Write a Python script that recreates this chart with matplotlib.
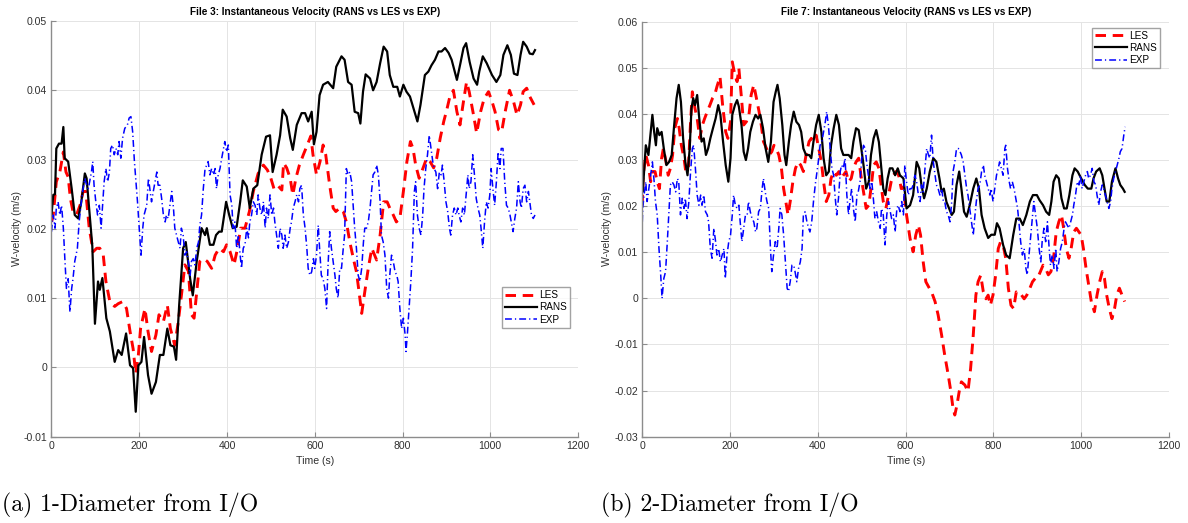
import numpy as np
import matplotlib
matplotlib.use("Agg")
import matplotlib.pyplot as plt

plt.rcParams["font.family"] = ["Liberation Sans", "DejaVu Sans"]
plt.rcParams["axes.unicode_minus"] = False

# ---------------- File 3 (1-Diameter from I/O), velocities in mm/s ----------------
t_les_3 = [0, 4, 11, 19, 27, 33, 38, 43, 49, 57, 65, 72, 78, 86, 95, 103, 110, 118, 124, 133,
           144, 152, 162, 171, 179, 186, 192, 198, 203, 213, 220, 228, 238, 245, 255, 264, 271,
           281, 289, 297, 304, 312, 319, 325, 331, 338, 346, 355, 365, 373, 382, 392, 399, 407,
           416, 424, 431, 441, 451, 460, 471, 483, 492, 500, 507, 515, 525, 529, 536, 544, 550,
           557, 565, 574, 583, 591, 596, 604, 612, 619, 625, 634, 642, 648, 657, 665, 672, 680,
           688, 695, 701, 707, 714, 722, 730, 741, 749, 757, 765, 771, 779, 786, 794, 802, 810,
           818, 824, 830, 838, 847, 855, 863, 871, 878, 886, 894, 901, 908, 916, 924, 931, 939,
           946, 952, 962, 969, 978, 986, 996, 1004, 1011, 1019, 1026, 1034, 1044, 1053, 1061,
           1069, 1075, 1083, 1090, 1100]
w_les_3 = [21.0, 22.0, 26.8, 28.2, 31.1, 28.2, 27.5, 24.4, 22.5, 22.0, 23.4, 25.4, 25.4, 20.1,
           16.7, 17.2, 17.2, 16.2, 12.4, 9.5, 8.8, 9.2, 9.5, 8.5, 5.2, 2.7, -0.9, 1.8, 5.6, 8.5,
           5.2, 2.3, 4.7, 7.6, 6.6, 9.0, 5.6, 3.2, 6.6, 10.9, 14.8, 13.9, 7.6, 7.1, 10.9, 15.3,
           15.7, 15.3, 14.3, 16.2, 17.2, 16.7, 17.7, 16.7, 14.8, 17.2, 20.1, 20.1, 22.5, 25.4,
           28.0, 29.2, 28.5, 27.3, 25.8, 26.3, 25.6, 29.5, 28.8, 27.3, 24.9, 27.3, 29.2, 30.7,
           32.1, 33.4, 30.7, 27.8, 29.7, 32.1, 30.7, 26.3, 23.0, 22.5, 23.0, 22.5, 21.0, 18.1,
           15.7, 13.8, 10.9, 7.8, 10.9, 14.3, 17.2, 15.5, 19.1, 23.9, 23.9, 23.0, 22.0, 21.0,
           21.5, 25.4, 29.7, 32.6, 31.6, 29.2, 27.3, 28.8, 30.2, 29.7, 28.8, 30.2, 33.1, 35.5,
           37.2, 39.1, 40.0, 36.9, 35.0, 38.4, 41.2, 39.8, 36.4, 33.8, 36.9, 38.8, 39.8, 38.4,
           36.9, 34.3, 34.0, 36.9, 40.0, 38.4, 36.4, 37.9, 39.8, 40.3, 39.1, 37.9]

t_rans_3 = [0, 4, 8, 11, 17, 23, 27, 30, 38, 46, 53, 61, 68, 76, 80, 87, 93, 96, 99, 106, 110,
            116, 125, 133, 144, 152, 160, 170, 179, 186, 192, 198, 205, 211, 220, 228, 238, 247,
            255, 264, 271, 279, 284, 291, 300, 306, 316, 322, 331, 342, 350, 354, 361, 369, 375,
            382, 388, 398, 405, 413, 422, 430, 436, 445, 452, 460, 469, 479, 489, 498, 504, 513,
            521, 527, 536, 544, 550, 559, 570, 578, 585, 593, 598, 604, 611, 619, 630, 642, 649,
            661, 668, 676, 684, 691, 699, 704, 710, 716, 726, 733, 741, 749, 757, 765, 771, 779,
            788, 794, 802, 809, 817, 826, 834, 841, 851, 859, 866, 874, 882, 889, 897, 905, 912,
            924, 932, 939, 945, 953, 962, 970, 975, 983, 992, 1004, 1014, 1023, 1030, 1039, 1047,
            1054, 1062, 1069, 1075, 1083, 1090, 1097, 1102]
w_rans_3 = [22.0, 24.9, 25.0, 31.6, 32.3, 32.3, 34.7, 30.2, 29.7, 25.8, 22.0, 21.5, 23.9, 28.0,
            27.3, 22.0, 17.5, 12.0, 6.3, 12.4, 11.2, 12.9, 7.1, 5.2, 0.8, 2.5, 1.8, 4.9, 0.3,
            -0.1, -6.4, 0.3, 0.8, 4.4, -1.1, -3.8, -2.1, 1.8, 1.8, 5.6, 3.2, 3.0, 1.1, 9.0, 17.2,
            18.1, 12.8, 10.4, 15.3, 20.1, 19.1, 20.1, 17.7, 17.7, 19.1, 19.6, 19.6, 23.9, 22.0,
            20.1, 20.3, 23.9, 27.0, 26.1, 23.0, 25.8, 26.3, 30.7, 33.3, 33.5, 28.2, 30.7, 33.5,
            37.2, 36.2, 33.1, 31.4, 35.0, 36.7, 36.7, 35.5, 36.9, 32.2, 34.0, 39.3, 40.8, 41.2,
            40.3, 43.4, 44.9, 44.4, 41.2, 40.8, 36.9, 36.7, 35.2, 39.8, 42.3, 41.7, 40.0, 41.2,
            43.9, 46.3, 45.6, 42.2, 40.5, 40.5, 39.1, 40.8, 39.8, 39.1, 37.2, 35.5, 37.9, 42.2,
            42.7, 43.6, 44.4, 45.6, 45.6, 46.1, 45.4, 44.4, 41.5, 43.9, 46.1, 46.8, 44.1, 41.7,
            40.8, 42.7, 44.9, 43.9, 42.2, 41.2, 42.2, 45.1, 46.5, 45.1, 42.4, 42.2, 45.1, 47.0,
            46.3, 45.3, 45.2, 45.8]

t_exp_3 = [0, 2, 4, 8, 11, 15, 19, 23, 27, 30, 34, 38, 42, 46, 49, 53, 59, 63, 68, 72, 76, 80,
           84, 87, 91, 94, 97, 101, 105, 109, 113, 116, 120, 124, 128, 132, 135, 139, 143, 147,
           151, 154, 158, 162, 167, 173, 177, 181, 185, 189, 192, 196, 200, 204, 208, 211, 217,
           221, 224, 228, 232, 236, 240, 243, 247, 251, 255, 259, 262, 266, 270, 274, 278, 281,
           285, 289, 293, 296, 300, 304, 308, 312, 316, 319, 323, 327, 331, 335, 338, 342, 346,
           350, 354, 357, 361, 365, 369, 373, 376, 380, 384, 388, 392, 395, 399, 403, 407, 411,
           414, 418, 422, 426, 430, 433, 437, 441, 445, 449, 452, 456, 460, 464, 468, 471, 475,
           479, 483, 487, 490, 494, 498, 502, 506, 509, 513, 517, 521, 525, 528, 532, 536, 540,
           544, 547, 551, 555, 559, 563, 566, 570, 574, 578, 582, 585, 589, 593, 597, 600, 604,
           608, 611, 615, 619, 623, 627, 630, 634, 638, 642, 646, 649, 653, 657, 661, 665, 668,
           672, 676, 680, 684, 688, 691, 695, 699, 703, 707, 711, 714, 718, 722, 726, 730, 733,
           737, 741, 745, 749, 752, 756, 760, 764, 768, 771, 775, 779, 783, 787, 790, 794, 798,
           802, 806, 808, 811, 815, 819, 823, 827, 830, 834, 838, 842, 846, 849, 853, 857, 861,
           865, 869, 872, 876, 880, 884, 888, 891, 895, 899, 903, 907, 910, 914, 918, 922, 926,
           929, 933, 937, 941, 945, 949, 952, 956, 960, 964, 968, 972, 976, 979, 983, 987, 991,
           995, 999, 1002, 1006, 1010, 1014, 1018, 1022, 1025, 1029, 1033, 1037, 1041, 1045,
           1048, 1052, 1056, 1060, 1064, 1068, 1071, 1075, 1079, 1083, 1087, 1090, 1094, 1098,
           1102]
w_exp_3 = [19.6, 21.0, 22.0, 20.1, 23.0, 23.9, 22.0, 23.4, 20.1, 16.2, 11.4, 12.8, 8.0, 11.4,
           12.8, 15.3, 17.2, 21.0, 23.9, 25.8, 27.3, 26.3, 25.8, 26.8, 28.2, 29.7, 26.3, 23.9,
           22.0, 23.4, 20.1, 23.0, 26.8, 28.7, 26.8, 28.2, 31.6, 32.1, 30.7, 31.6, 30.7, 32.6,
           30.2, 33.1, 34.5, 35.0, 36.0, 36.2, 34.0, 29.7, 27.3, 23.9, 20.1, 16.2, 20.1, 22.0,
           23.4, 27.3, 25.8, 23.9, 25.4, 26.8, 28.2, 26.3, 26.3, 24.4, 22.0, 21.0, 22.0, 21.5,
           23.4, 25.4, 23.0, 20.1, 19.1, 18.1, 17.2, 20.1, 19.1, 16.2, 16.7, 15.3, 13.3, 15.3,
           15.7, 14.8, 17.2, 18.1, 20.5, 22.0, 25.8, 28.7, 29.2, 29.7, 27.8, 28.7, 27.8, 28.7,
           25.8, 27.8, 28.7, 30.2, 31.6, 32.6, 31.1, 32.1, 24.9, 23.4, 20.1, 21.0, 17.2, 19.1,
           16.2, 14.3, 17.2, 17.7, 20.1, 18.7, 21.0, 22.0, 23.9, 23.4, 22.0, 24.9, 23.0, 22.0,
           23.9, 20.1, 23.0, 21.5, 24.9, 22.0, 23.0, 21.0, 19.1, 17.2, 20.1, 19.1, 17.2, 19.1,
           17.2, 18.1, 20.1, 21.0, 23.0, 23.9, 24.9, 23.9, 25.8, 26.3, 22.0, 20.1, 17.2, 14.3,
           13.3, 13.8, 15.7, 14.3, 16.2, 20.5, 17.2, 13.3, 12.8, 11.4, 8.5, 14.3, 19.6, 17.2,
           15.3, 13.3, 11.4, 10.0, 14.3, 14.3, 17.2, 19.1, 28.7, 27.8, 28.2, 26.8, 23.0, 20.1,
           17.2, 13.3, 12.4, 14.3, 18.1, 20.1, 20.1, 21.0, 23.0, 25.8, 27.8, 28.2, 29.2, 27.8,
           23.9, 19.1, 18.1, 16.2, 11.4, 10.0, 13.3, 16.2, 15.3, 13.8, 13.3, 12.4, 8.5, 5.6,
           7.1, 4.7, 2.3, 4.7, 8.5, 12.4, 17.2, 25.4, 26.8, 22.0, 20.1, 19.1, 22.0, 25.8, 28.7,
           30.7, 33.5, 31.6, 29.7, 28.7, 28.2, 25.8, 28.2, 27.8, 29.2, 26.8, 23.9, 22.5, 20.1,
           19.1, 22.0, 23.0, 22.0, 23.0, 22.0, 21.0, 23.0, 22.0, 24.9, 27.8, 25.8, 26.8, 30.7,
           27.8, 24.4, 23.0, 22.0, 20.1, 17.2, 21.0, 23.9, 23.0, 24.9, 28.7, 25.8, 23.4, 26.8,
           31.1, 28.7, 31.6, 31.6, 26.8, 23.4, 23.0, 22.0, 21.0, 19.6, 21.5, 23.0, 26.8, 23.9,
           23.0, 25.8, 26.3, 23.9, 25.4, 23.9, 22.0, 21.5, 22.0]

# ---------------- File 7 (2-Diameter from I/O), velocities in mm/s ----------------
t_les_7 = [0, 2, 8, 14, 19, 23, 29, 34, 39, 44, 48, 54, 59, 64, 69, 74, 80, 84, 89, 95, 99, 105,
           110, 114, 120, 125, 131, 137, 142, 148, 154, 160, 165, 170, 177, 183, 190, 195, 201,
           205, 211, 216, 220, 226, 231, 237, 243, 248, 254, 260, 266, 271, 276, 283, 289, 295,
           300, 305, 311, 317, 322, 327, 332, 337, 343, 349, 355, 361, 367, 373, 380, 385, 390,
           396, 402, 408, 413, 419, 425, 430, 436, 442, 448, 453, 458, 464, 470, 476, 481, 487,
           493, 498, 504, 510, 516, 521, 527, 533, 539, 544, 549, 555, 561, 567, 572, 578, 584,
           590, 595, 602, 610, 617, 623, 629, 634, 640, 646, 654, 659, 667, 674, 682, 689, 697,
           703, 708, 712, 717, 722, 727, 735, 742, 748, 754, 760, 765, 771, 777, 783, 788, 793,
           799, 805, 811, 816, 822, 828, 834, 840, 846, 852, 858, 864, 870, 876, 883, 889, 895,
           900, 907, 913, 919, 925, 931, 937, 943, 949, 955, 960, 966, 972, 977, 983, 989, 995,
           1000, 1005, 1011, 1017, 1023, 1030, 1036, 1042, 1048, 1053, 1058, 1064, 1070, 1076,
           1081, 1087, 1093, 1099]
w_les_7 = [20.2, 26.7, 31.1, 28.9, 25.3, 27.5, 27.5, 25.3, 23.8, 30.4, 32.5, 29.6, 26.7, 28.2,
           31.1, 36.9, 39.0, 36.9, 33.2, 30.4, 27.5, 28.2, 38.3, 44.8, 41.2, 39.0, 34.7, 37.6,
           39.0, 40.5, 41.9, 43.4, 44.1, 45.9, 48.1, 41.9, 36.1, 34.7, 38.3, 51.3, 48.4, 47.0,
           49.9, 43.4, 37.6, 38.3, 39.8, 44.1, 46.3, 43.4, 40.5, 37.6, 34.0, 32.5, 31.1, 31.8,
           33.2, 32.5, 31.1, 28.2, 23.8, 21.0, 18.1, 21.0, 25.3, 28.2, 29.6, 28.9, 27.5, 31.1,
           34.0, 34.7, 34.0, 35.4, 32.5, 29.6, 25.3, 21.0, 22.4, 26.0, 27.5, 26.7, 27.5, 26.0,
           26.7, 27.5, 25.3, 26.0, 28.2, 29.6, 30.4, 26.7, 23.1, 19.5, 20.2, 23.8, 28.9, 29.6,
           28.2, 24.6, 21.0, 19.5, 22.4, 25.3, 26.7, 27.5, 26.7, 23.8, 24.2, 18.1, 13.0, 10.1,
           13.7, 15.9, 13.7, 7.9, 3.6, 2.2, 1.4, -0.7, -3.6, -8.0, -12.3, -16.6, -20.2, -23.9,
           -25.3, -23.1, -20.2, -18.1, -18.8, -20.2, -15.2, -8.0, 0.7, 3.6, 5.0, 1.4, -0.1, 0.7,
           -1.5, 0.7, 5.0, 10.8, 12.2, 11.6, 8.7, 2.2, -1.5, -2.2, 1.4, 0.7, 0.7, -0.1, 0.7, 2.2,
           3.6, 4.3, 4.3, 5.8, 7.2, 6.5, 5.1, 5.8, 8.7, 14.4, 16.6, 18.1, 15.2, 10.8, 8.7, 10.8,
           14.4, 15.2, 14.4, 13.7, 10.8, 6.5, 2.9, -0.7, -2.9, 0.7, 3.6, 5.8, 4.3, 0.7, -2.2,
           -4.4, -2.2, 0.7, 2.2, 0.7, -0.7]

t_rans_7 = [0, 1, 4, 8, 14, 17, 23, 27, 31, 34, 39, 44, 49, 55, 61, 67, 72, 78, 83, 88, 93, 98,
            103, 108, 112, 116, 120, 125, 129, 135, 140, 145, 150, 155, 161, 167, 173, 178, 184,
            190, 196, 201, 205, 211, 216, 220, 226, 231, 236, 241, 246, 252, 258, 264, 269, 275,
            281, 287, 293, 299, 304, 308, 313, 319, 324, 328, 334, 339, 345, 351, 357, 362, 367,
            373, 380, 385, 390, 396, 402, 408, 413, 419, 425, 430, 436, 442, 448, 453, 458, 464,
            470, 476, 481, 487, 493, 498, 504, 510, 516, 521, 527, 533, 539, 544, 549, 554, 559,
            564, 570, 576, 582, 587, 595, 602, 610, 617, 625, 631, 636, 642, 648, 655, 663, 670,
            677, 682, 687, 693, 699, 705, 710, 716, 722, 727, 733, 739, 746, 754, 761, 767, 773,
            780, 788, 795, 803, 808, 814, 822, 829, 837, 845, 852, 860, 867, 875, 883, 890, 899,
            905, 913, 920, 927, 932, 937, 943, 949, 955, 961, 967, 973, 980, 985, 992, 1000, 1008,
            1015, 1023, 1028, 1034, 1042, 1048, 1053, 1058, 1064, 1070, 1078, 1084, 1089, 1095,
            1099]
w_rans_7 = [25.3, 23.1, 27.5, 33.2, 31.1, 34.0, 39.8, 36.1, 33.2, 36.9, 35.4, 36.1, 32.5, 28.9,
            29.6, 31.1, 36.9, 43.4, 46.3, 42.6, 34.7, 29.6, 26.7, 32.5, 41.2, 43.4, 41.9, 44.1,
            39.8, 34.0, 34.7, 31.1, 32.5, 34.7, 36.9, 39.0, 41.9, 39.8, 34.0, 28.9, 25.3, 30.4,
            39.8, 41.9, 43.0, 41.6, 37.6, 31.8, 30.0, 32.5, 36.1, 38.3, 39.8, 39.0, 39.8, 36.9,
            32.5, 29.6, 33.9, 42.6, 44.8, 46.3, 43.4, 37.6, 31.1, 28.9, 34.0, 37.6, 40.5, 38.3,
            37.6, 36.1, 32.5, 31.1, 31.1, 30.4, 34.0, 37.6, 39.8, 36.1, 30.4, 26.7, 27.5, 33.2,
            36.9, 39.8, 37.6, 32.5, 31.1, 31.1, 31.1, 30.4, 34.0, 36.9, 36.5, 33.2, 28.9, 23.8,
            25.3, 31.1, 34.7, 36.5, 33.9, 28.9, 23.8, 22.4, 26.0, 28.2, 28.2, 26.7, 28.2, 26.7,
            26.0, 19.5, 20.2, 22.4, 29.6, 28.2, 24.6, 21.7, 23.8, 27.5, 30.4, 29.6, 26.0, 23.1,
            23.8, 20.9, 19.5, 18.1, 18.8, 24.6, 27.5, 23.8, 18.8, 17.7, 20.2, 23.8, 26.0, 23.8,
            18.1, 15.2, 13.1, 13.8, 13.8, 16.3, 15.2, 11.6, 9.4, 8.7, 13.7, 17.3, 17.3, 15.9,
            18.1, 21.0, 22.4, 22.4, 21.3, 20.2, 18.8, 18.1, 21.0, 25.3, 26.7, 26.0, 21.7, 19.5,
            19.5, 22.4, 26.7, 28.2, 27.5, 26.0, 24.6, 23.8, 23.8, 26.0, 27.5, 28.2, 26.7, 23.8,
            21.0, 21.0, 25.3, 28.2, 26.0, 24.6, 23.8, 23.1]

t_exp_7 = [0, 1, 4, 8, 11, 15, 19, 23, 27, 30, 34, 38, 42, 45, 49, 53, 57, 61, 64, 68, 72, 76,
           80, 83, 87, 91, 95, 98, 102, 106, 110, 114, 117, 121, 125, 129, 133, 136, 140, 144,
           148, 151, 155, 159, 163, 167, 170, 174, 178, 182, 186, 189, 193, 197, 201, 205, 208,
           212, 216, 220, 223, 227, 231, 235, 239, 242, 246, 250, 254, 258, 261, 265, 269, 273,
           276, 280, 284, 288, 292, 295, 299, 303, 307, 311, 314, 318, 322, 326, 330, 333, 337,
           341, 345, 348, 352, 356, 360, 364, 367, 371, 375, 379, 382, 386, 390, 394, 398, 401,
           405, 409, 413, 417, 420, 424, 428, 432, 436, 439, 443, 447, 451, 454, 458, 462, 466,
           470, 473, 477, 481, 485, 489, 492, 496, 500, 504, 508, 511, 515, 519, 523, 527, 530,
           534, 538, 542, 545, 549, 553, 557, 561, 565, 568, 572, 576, 580, 583, 587, 591, 595,
           598, 602, 606, 610, 614, 617, 621, 625, 629, 633, 636, 640, 644, 648, 652, 655, 659,
           663, 667, 670, 674, 678, 682, 686, 689, 693, 697, 701, 705, 708, 712, 716, 720, 724,
           727, 731, 735, 739, 742, 746, 750, 754, 758, 761, 765, 769, 773, 777, 780, 784, 788,
           792, 795, 799, 803, 807, 811, 814, 818, 822, 826, 828, 832, 836, 839, 843, 847, 851,
           855, 858, 862, 866, 870, 874, 877, 881, 885, 889, 892, 896, 900, 904, 908, 911, 915,
           919, 923, 927, 930, 934, 938, 942, 945, 949, 953, 957, 961, 964, 968, 972, 976, 980,
           983, 987, 991, 995, 998, 1002, 1006, 1010, 1014, 1017, 1021, 1025, 1029, 1033, 1036,
           1040, 1044, 1048, 1051, 1055, 1059, 1063, 1067, 1070, 1074, 1078, 1082, 1086, 1089,
           1093, 1097, 1100]
w_exp_7 = [16.6, 19.5, 22.4, 25.3, 21.0, 23.8, 26.7, 29.6, 25.3, 21.0, 18.1, 10.8, 5.0, 0.0,
           4.3, 5.8, 12.3, 19.5, 24.6, 25.3, 24.6, 23.1, 26.0, 25.3, 18.1, 21.7, 19.5, 21.7,
           17.3, 20.9, 27.5, 32.5, 33.2, 28.2, 22.4, 20.2, 22.4, 20.2, 22.4, 18.8, 18.1, 16.6,
           10.8, 8.7, 15.2, 12.3, 9.4, 10.8, 7.9, 9.4, 10.8, 4.3, 9.4, 12.3, 13.7, 18.1, 22.4,
           20.2, 19.5, 20.2, 16.6, 12.3, 15.2, 18.1, 18.1, 21.0, 18.8, 17.3, 16.6, 14.4, 15.2,
           18.8, 19.5, 23.8, 26.0, 23.1, 21.0, 19.5, 10.8, 5.8, 9.4, 12.3, 10.8, 15.2, 19.5, 18.1,
           13.7, 7.9, 2.2, 1.5, 3.6, 7.2, 7.2, 5.8, 3.6, 6.5, 7.9, 10.8, 18.1, 18.8, 16.6, 15.2,
           14.4, 16.6, 21.0, 24.6, 27.5, 29.6, 33.2, 33.9, 36.1, 38.3, 40.5, 37.6, 32.5, 28.2,
           26.7, 22.4, 18.1, 21.7, 27.5, 28.9, 28.2, 30.4, 22.4, 18.1, 21.0, 23.8, 19.5, 16.6,
           22.4, 23.1, 25.3, 30.4, 33.2, 32.5, 29.6, 26.7, 23.8, 25.3, 21.0, 17.3, 18.8, 16.6,
           15.2, 19.5, 18.1, 11.6, 18.1, 21.0, 18.8, 17.3, 18.1, 14.4, 19.5, 20.2, 18.8, 21.0,
           18.1, 28.9, 25.3, 22.4, 23.8, 23.8, 24.6, 26.7, 25.3, 22.4, 21.0, 24.6, 23.1,
           28.2, 32.5, 31.1, 30.4, 35.4, 29.6, 26.7, 24.6, 23.8, 22.4, 23.8, 21.0, 21.0, 18.8,
           18.1, 16.6, 21.0, 27.5, 29.6, 32.5, 32.5, 31.8, 31.1, 29.6, 26.7, 23.8, 22.4, 19.5,
           16.6, 13.7, 18.1, 21.0, 23.8, 24.6, 27.5, 28.9, 26.7, 25.3, 23.8, 22.4, 23.8, 21.0,
           23.8, 26.7, 28.2, 29.6, 28.2, 26.7, 32.5, 33.2, 28.2, 25.3, 23.8, 25.3, 23.8, 21.7,
           19.5, 16.6, 12.3, 9.4, 10.8, 6.5, 5.1, 9.4, 13.7, 18.1, 21.0, 18.1, 15.2, 10.8, 7.9,
           12.3, 15.2, 12.3, 16.6, 10.8, 7.2, 9.4, 6.5, 10.8, 5.8, 7.9, 10.8, 12.3, 15.2, 16.6,
           15.9, 15.2, 16.6, 18.1, 20.2, 22.4, 25.3, 24.6, 26.7, 23.8, 25.3, 26.7, 27.5, 26.0,
           26.7, 28.2, 25.3, 24.6, 22.4, 20.2, 23.1, 24.6, 23.8, 22.4, 21.0, 19.5, 21.0, 23.8,
           26.0, 27.5, 28.9, 30.4, 31.8, 32.5, 35.4, 37.2]

# axis settings
x_ticks = [0, 200, 400, 600, 800, 1000, 1200]
y_ticks_3 = [-0.01, 0.0, 0.01, 0.02, 0.03, 0.04, 0.05]
y_labels_3 = ["-0.01", "0", "0.01", "0.02", "0.03", "0.04", "0.05"]
y_ticks_7 = [-0.03, -0.02, -0.01, 0.0, 0.01, 0.02, 0.03, 0.04, 0.05, 0.06]
y_labels_7 = ["-0.03", "-0.02", "-0.01", "0", "0.01", "0.02", "0.03", "0.04", "0.05", "0.06"]
titles = ["File 3: Instantaneous Velocity (RANS vs LES vs EXP)",
          "File 7: Instantaneous Velocity (RANS vs LES vs EXP)"]
captions = ["(a) 1-Diameter from I/O", "(b) 2-Diameter from I/O"]

W, H = 1188, 523
fig = plt.figure(figsize=(W / 100, H / 100), dpi=100)

axis_gray = "#8c8c8c"
text_gray = "#303030"


def px_rect(x0, y0, x1, y1):
    return [x0 / W, 1 - y1 / H, (x1 - x0) / W, (y1 - y0) / H]


def draw_panel(rect, data, yticks, ylabels, title, legend_xy, title_x, xlabel_x, ylabel_x):
    ax = fig.add_axes(rect)
    (tl, wl), (tr, wr), (te, we) = data
    ax.plot(tl, np.asarray(wl) / 1000, color="red", lw=2.1,
            linestyle=(0, (3.6, 2.3)), label="LES")
    ax.plot(tr, np.asarray(wr) / 1000, color="black", lw=1.6, label="RANS")
    ax.plot(te, np.asarray(we) / 1000, color="blue", lw=1.1,
            linestyle=(0, (4.5, 2.0, 0.8, 2.0)), label="EXP")
    ax.set_xlim(0, 1200)
    ax.set_ylim(yticks[0], yticks[-1])
    ax.set_xticks(x_ticks)
    ax.set_xticklabels([str(v) for v in x_ticks])
    ax.set_yticks(yticks)
    ax.set_yticklabels(ylabels)
    ax.grid(True, color="#e4e4e4", lw=0.7)
    ax.set_axisbelow(True)
    for side in ("top", "right"):
        ax.spines[side].set_visible(False)
    for side in ("left", "bottom"):
        ax.spines[side].set_color(axis_gray)
        ax.spines[side].set_linewidth(1.0)
    ax.tick_params(direction="in", length=3.5, width=0.8, color=axis_gray,
                   labelsize=7.6, labelcolor=text_gray, pad=3)
    leg = ax.legend(loc="upper left", bbox_to_anchor=(legend_xy[0] / W, 1 - legend_xy[1] / H),
                    bbox_transform=fig.transFigure, fontsize=7.2, frameon=True,
                    fancybox=False, handlelength=3.2, handletextpad=0.25,
                    labelspacing=0.22, borderpad=0.3, borderaxespad=0)
    leg.get_frame().set_edgecolor("#8c8c8c")
    leg.get_frame().set_linewidth(1.0)
    fig.text(title_x / W, 1 - 12 / H, title, ha="center", va="center",
             fontsize=7.2, fontweight="bold", color="black")
    fig.text(xlabel_x / W, 1 - 461 / H, "Time (s)", ha="center", va="center",
             fontsize=7.6, color=text_gray)
    fig.text(ylabel_x / W, 1 - 229 / H, "W-velocity (m/s)", ha="center", va="center",
             rotation=90, fontsize=7.6, color=text_gray)
    return ax


draw_panel(px_rect(51.5, 21, 578, 436.7),
           [(t_les_3, w_les_3), (t_rans_3, w_rans_3), (t_exp_3, w_exp_3)],
           y_ticks_3, y_labels_3, titles[0], (501.7, 287.3), 315, 315, 17)
draw_panel(px_rect(642.3, 21.7, 1169, 436.7),
           [(t_les_7, w_les_7), (t_rans_7, w_rans_7), (t_exp_7, w_exp_7)],
           y_ticks_7, y_labels_7, titles[1], (1092, 27.7), 906, 906, 607)

for cx, text in zip([2, 601], captions):
    fig.text(cx / W, 1 - 505 / H, text, ha="left", va="center",
             fontsize=17.1, family=["cmr10", "DejaVu Serif"], color="black")

fig.savefig("out.png", dpi=100)
